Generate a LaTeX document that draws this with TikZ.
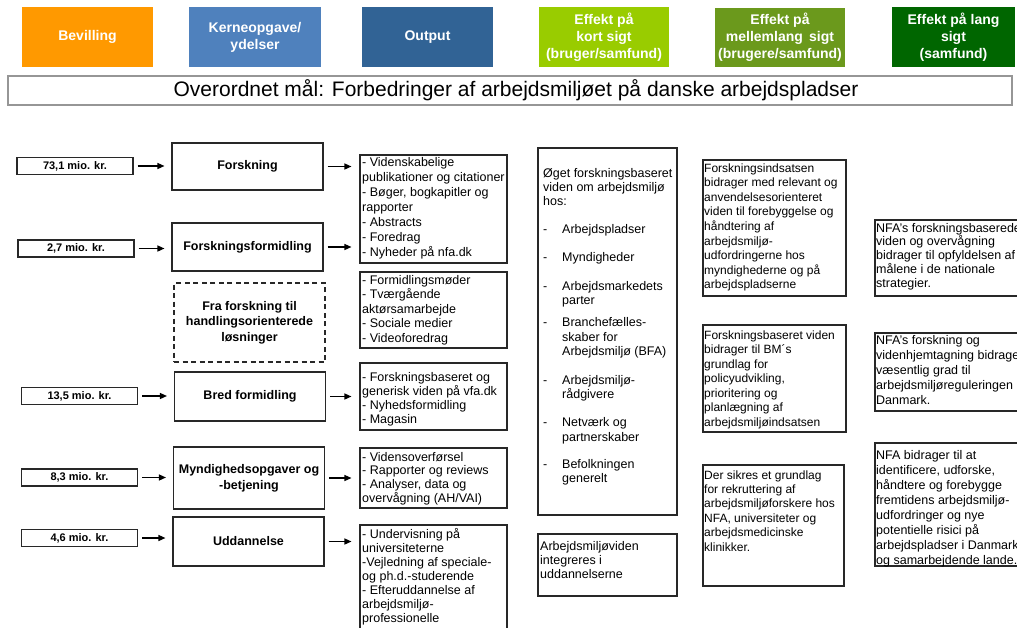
\documentclass[tikz,border=0pt]{standalone}
\usepackage{fontspec}
\setmainfont{Liberation Sans}
\usetikzlibrary{arrows.meta}
\definecolor{cOrange}{RGB}{255,153,0}
\definecolor{cBlueA}{RGB}{79,129,189}
\definecolor{cBlueB}{RGB}{49,99,149}
\definecolor{cGreenA}{RGB}{153,204,0}
\definecolor{cGreenB}{RGB}{107,153,28}
\definecolor{cGreenC}{RGB}{0,102,0}
\definecolor{cLine}{RGB}{40,40,40}
\definecolor{cBar}{RGB}{150,150,150}
\begin{document}
\begin{tikzpicture}[x=1pt,y=-1pt,
  hdr/.style={fill=#1, draw=none, text=white, align=center, inner sep=0pt,
    font=\fontsize{14}{17}\selectfont\bfseries},
  bx/.style={draw=cLine, line width=1.1pt, inner sep=0pt, fill=white},
  budget/.style={bx, minimum width=116pt, minimum height=17pt,
    font=\fontsize{11}{13}\selectfont\bfseries},
  kern/.style={bx, minimum width=151pt, align=center,
    font=\fontsize{12.5}{15.5}\selectfont\bfseries},
  tx/.style={anchor=base west, inner sep=0pt, font=\fontsize{12.5}{14.3}\selectfont},
  txm/.style={anchor=base west, inner sep=0pt, font=\fontsize{12}{14.5}\selectfont},
  arr/.style={draw=black, line width=1.3pt, -{Triangle[length=7pt,width=6pt]}}
]
\useasboundingbox (0,0) rectangle (1017,627);
\fill[white] (0,0) rectangle (1017,627);
\clip (0,0) rectangle (1017,627);

% header row
\node[hdr=cOrange, minimum width=131pt, minimum height=60pt] (h1) at (87.5,37) {Bevilling};
\node[hdr=cBlueA, minimum width=132pt, minimum height=60pt] (h2) at (255,37) {Kerneopgave/\\ydelser};
\node[hdr=cBlueB, minimum width=131pt, minimum height=60pt] (h3) at (427.5,37) {Output};
\node[hdr=cGreenA, minimum width=130pt, minimum height=60pt] (h4) at (604,37) {Effekt på\\kort sigt\\(bruger/samfund)};
\node[hdr=cGreenB, minimum width=130pt, minimum height=59pt] (h5) at (780,37.5) {Effekt på\\mellemlang\, sigt\\(brugere/samfund)};
\node[hdr=cGreenC, minimum width=123pt, minimum height=60pt] (h6) at (953.5,37) {Effekt på lang\\sigt\\(samfund)};

% title bar
\node[draw=cBar, line width=1.3pt, fill=white, minimum width=1004pt, minimum height=29pt, inner sep=0pt] (goal) at (510,90.5) {};
\node[inner sep=0pt, font=\fontsize{21}{25}\selectfont] (goaltxt) at (516,90.5) {Overordnet mål: Forbedringer af arbejdsmiljøet på danske arbejdspladser};

% budgets
\node[budget] (b1) at (75,166) {73,1 mio. kr.};
\node[budget] (b2) at (76,248.5) {2,7 mio. kr.};
\node[budget] (b3) at (79.5,396) {13,5 mio. kr.};
\node[budget] (b4) at (79.5,477.5) {8,3 mio. kr.};
\node[budget] (b5) at (79.5,538) {4,6 mio. kr.};

% core tasks
\node[kern, minimum height=47pt] (k1) at (247.5,166.5) {Forskning};
\node[kern, minimum height=48pt] (k2) at (247.5,247) {Forskningsformidling};
\node[kern, minimum height=79pt, dashed, dash pattern=on 5pt off 3.5pt] (k3) at (249.5,322.5) {Fra forskning til\\handlingsorienterede\\løsninger};
\node[kern, minimum height=49pt] (k4) at (250,396.5) {Bred formidling};
\node[kern, minimum height=62pt, font=\fontsize{12.5}{16}\selectfont\bfseries] (k5) at (249,478) {Myndighedsopgaver og\\-betjening};
\node[kern, minimum height=49pt] (k6) at (248.5,541.5) {Uddannelse};

% output boxes
\node[bx, minimum width=147pt, minimum height=108pt] (o1) at (433.5,209) {};
\node[bx, minimum width=147pt, minimum height=76pt] (o2) at (433.5,310) {};
\node[bx, minimum width=147pt, minimum height=67pt] (o3) at (433.5,396.5) {};
\node[bx, minimum width=147pt, minimum height=60pt] (o4) at (433.5,478) {};
\node[bx, minimum width=147pt, minimum height=110pt] (o5) at (433.5,580) {};

\node[tx, font=\fontsize{12.5}{15}\selectfont] at (362,166) {\parbox[t]{300pt}{- Videnskabelige\\publikationer og citationer\\- Bøger, bogkapitler og\\rapporter\\- Abstracts\\- Foredrag\\- Nyheder på nfa.dk}};
\node[tx, font=\fontsize{12.5}{14.6}\selectfont] at (362,284) {\parbox[t]{300pt}{- Formidlingsmøder\\- Tværgående\\aktørsamarbejde\\- Sociale medier\\- Videoforedrag}};
\node[tx, font=\fontsize{12.5}{14}\selectfont] at (362,381) {\parbox[t]{300pt}{- Forskningsbaseret og\\generisk viden på vfa.dk\\- Nyhedsformidling\\- Magasin}};
\node[tx, font=\fontsize{12.5}{13.7}\selectfont] at (362,461) {\parbox[t]{300pt}{- Vidensoverførsel\\- Rapporter og reviews\\- Analyser, data og\\overvågning (AH/VAI)}};
\node[tx, font=\fontsize{12.5}{14}\selectfont] at (362,538) {\parbox[t]{300pt}{- Undervisning på\\universiteterne\\-Vejledning af speciale-\\og ph.d.-studerende\\- Efteruddannelse af\\arbejdsmiljø-\\professionelle}};

% short-term effects
\node[bx, minimum width=139pt, minimum height=367pt] (s1) at (607.5,331.5) {};
\node[bx, minimum width=139pt, minimum height=62pt] (s2) at (607.5,565) {};
\node[tx] at (543,177) {\parbox[t]{300pt}{Øget forskningsbaseret\\viden om arbejdsmiljø\\hos:\\[13.7pt]
\makebox[19pt][l]{-}Arbejdspladser\\[13.7pt]
\makebox[19pt][l]{-}Myndigheder\\[14.7pt]
\makebox[19pt][l]{-}Arbejdsmarkedets\\\hspace*{19pt}parter\\[7.7pt]
\makebox[19pt][l]{-}Branchefælles-\\\hspace*{19pt}skaber for\\\hspace*{19pt}Arbejdsmiljø (BFA)\\[14.7pt]
\makebox[19pt][l]{-}Arbejdsmiljø-\\\hspace*{19pt}rådgivere\\[13.7pt]
\makebox[19pt][l]{-}Netværk og\\\hspace*{19pt}partnerskaber\\[12.7pt]
\makebox[19pt][l]{-}Befolkningen\\\hspace*{19pt}generelt}};
\node[tx, font=\fontsize{12.5}{14}\selectfont] at (540,550) {\parbox[t]{300pt}{Arbejdsmiljøviden\\integreres i\\uddannelserne}};

% medium-term effects
\node[bx, minimum width=143pt, minimum height=136pt] (m1) at (774.5,228) {};
\node[bx, minimum width=143pt, minimum height=107pt] (m2) at (774.5,378.5) {};
\node[bx, minimum width=141pt, minimum height=121pt] (m3) at (773.5,525.5) {};
\node[txm, font=\fontsize{12}{14.6}\selectfont] at (704,172) {\parbox[t]{300pt}{Forskningsindsatsen\\bidrager med relevant og\\anvendelsesorienteret\\viden til forebyggelse og\\håndtering af\\arbejdsmiljø-\\udfordringerne hos\\myndighederne og på\\arbejdspladserne}};
\node[txm] at (704,339) {\parbox[t]{300pt}{Forskningsbaseret viden\\bidrager til BM´s\\grundlag for\\policyudvikling,\\prioritering og\\planlægning af\\arbejdsmiljøindsatsen}};
\node[txm, font=\fontsize{12}{14.4}\selectfont] at (704,479) {\parbox[t]{300pt}{Der sikres et grundlag\\for rekruttering af\\arbejdsmiljøforskere hos\\NFA, universiteter og\\arbejdsmedicinske\\klinikker.}};

% long-term effects
\node[bx, minimum width=155pt, minimum height=76pt] (l1) at (952.5,258) {};
\node[bx, minimum width=155pt, minimum height=78pt] (l2) at (952.5,372) {};
\node[bx, minimum width=155pt, minimum height=123pt] (l3) at (952.5,504.5) {};
\node[tx, font=\fontsize{12.5}{13.8}\selectfont] at (876,232) {\parbox[t]{300pt}{NFA's forskningsbaserede\\viden og overvågning\\bidrager til opfyldelsen af\\målene i de nationale\\strategier.}};
\node[tx, font=\fontsize{12.5}{15}\selectfont] at (876,344) {\parbox[t]{300pt}{NFA's forskning og\\videnhjemtagning bidrager\\væsentlig grad til\\arbejdsmiljøreguleringen i\\Danmark.}};
\node[tx, font=\fontsize{12.5}{15}\selectfont] at (876,459) {\parbox[t]{300pt}{NFA bidrager til at\\identificere, udforske,\\håndtere og forebygge\\fremtidens arbejdsmiljø-\\udfordringer og nye\\potentielle risici på\\arbejdspladser i Danmark\\og samarbejdende lande.}};

% arrows budget -> core task
\foreach \b/\k in {b1/k1,b2/k2,b3/k4,b4/k5,b5/k6}{
  \draw[arr, shorten <=4pt, shorten >=7pt] (\b.east) -- (\k.west |- \b.east);
}
% arrows core task -> output
\foreach \k/\o in {k1/o1,k2/o2,k4/o3,k5/o4,k6/o5}{
  \draw[arr, shorten <=4pt, shorten >=8pt] (\k.east) -- (\o.west |- \k.east);
}
\end{tikzpicture}
\end{document}
